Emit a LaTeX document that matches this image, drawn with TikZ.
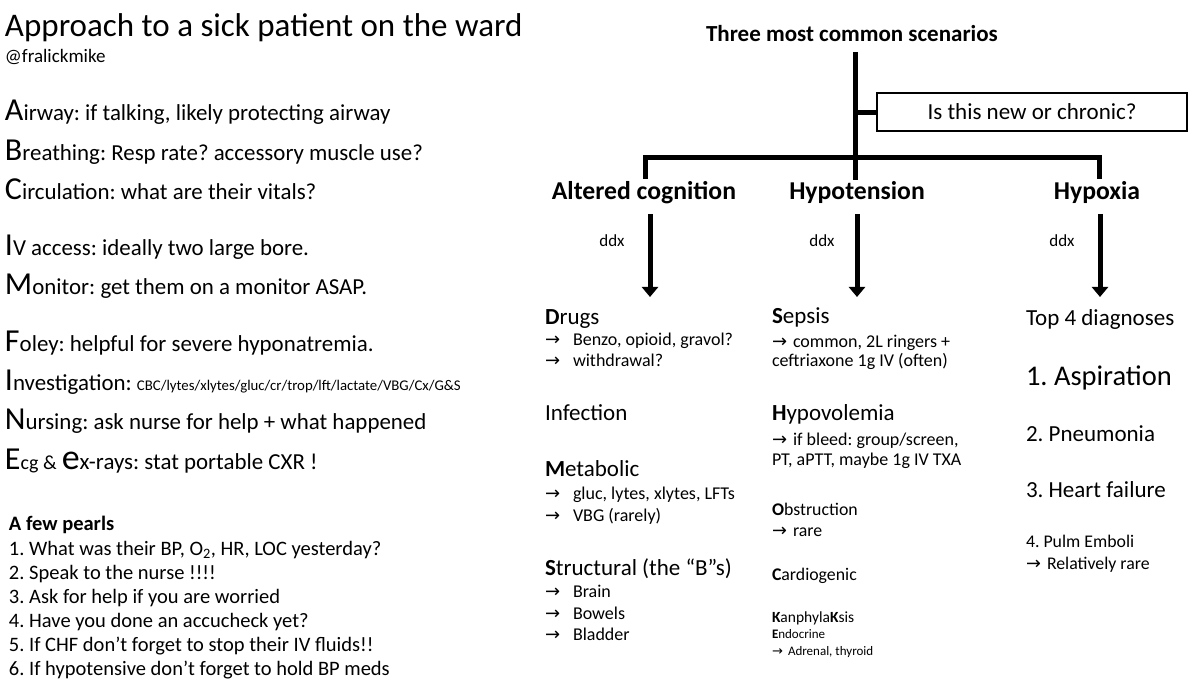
\documentclass[tikz,border=0pt]{standalone}
\usepackage{fontspec}
\setmainfont{Carlito}
\newfontfamily\dejavu{DejaVu Sans}
\usetikzlibrary{arrows.meta}
\frenchspacing
\newcommand\fsz[1]{\fontsize{#1}{#1}\selectfont}
\newcommand\rar{{\dejavu\char"2192}}
\newcommand\rarw[1]{\makebox[#1][l]{\rar}}
\newcommand\BL[1]{{\fontsize{32}{32}\selectfont #1}}
\begin{document}
\begin{tikzpicture}[x=1pt,y=-1pt,
  txt/.style={anchor=base west,inner sep=0pt,outer sep=0pt},
  ctxt/.style={anchor=base,inner sep=0pt,outer sep=0pt},
  tree/.style={line width=5pt},
  bigarrow/.style={line width=5pt,-{Triangle[width=16pt,length=10pt]}},
  qbox/.style={draw,line width=2.5pt,minimum width=310pt,minimum height=38pt,inner sep=0pt,font=\fsz{23}}
]
\useasboundingbox (0,0) rectangle (1200,684);
% ---------- left column ----------
\node[txt] (title) at (5,37) {\fsz{33}Approach to a sick patient on the ward};
\node[txt] (handle) at (5,63) {\fsz{19}@fralickmike};
\node[txt] (air) at (5,121) {\fsz{22.9}\BL{A}irway: if talking, likely protecting airway};
\node[txt] (bre) at (5,161) {\fsz{22.9}\BL{B}reathing: Resp rate? accessory muscle use?};
\node[txt] (cir) at (5,200) {\fsz{22.9}\BL{C}irculation: what are their vitals?};
\node[txt] (ivl) at (5,256) {\fsz{22.9}\BL{I}V access: ideally two large bore.};
\node[txt] (mon) at (5,295) {\fsz{22.9}\BL{M}onitor: get them on a monitor ASAP.};
\node[txt] (fol) at (5,352) {\fsz{22.9}\BL{F}oley: helpful for severe hyponatremia.};
\node[txt] (inv) at (5,391) {\fsz{22.9}\BL{I}nvestigation: {\fsz{14.8}CBC/lytes/xlytes/gluc/cr/trop/lft/lactate/VBG/Cx/G\&S}};
\node[txt] (nur) at (5,430) {\fsz{22.9}\BL{N}ursing: ask nurse for help + what happened};
\node[txt] (ecg) at (5,470) {\fsz{22.9}\BL{E}{\fsz{20}cg \&} {\fontsize{36}{36}\selectfont e}x-rays: stat portable CXR !};
\node[txt] (pearls) at (9,530) {\fsz{20.5}\bfseries A few pearls};
\node[txt] (p1) at (9,555) {\fsz{20.5}1. What was their BP, O\textsubscript{2}, HR, LOC yesterday?};
\node[txt] (p2) at (9,579) {\fsz{20.5}2. Speak to the nurse !!!!};
\node[txt] (p3) at (9,603) {\fsz{20.5}3. Ask for help if you are worried};
\node[txt] (p4) at (9,627) {\fsz{20.5}4. Have you done an accucheck yet?};
\node[txt] (p5) at (9,651) {\fsz{20.5}5. If CHF don’t forget to stop their IV fluids!!};
\node[txt] (p6) at (9,675) {\fsz{20.5}6. If hypotensive don’t forget to hold BP meds};
% ---------- tree ----------
\node[ctxt] (top) at (852,42) {\fsz{23}\bfseries Three most common scenarios};
\node[qbox] (q) at (1032,112) {Is this new or chronic?};
\node[ctxt] (alt) at (644,200) {\fsz{25.7}\bfseries Altered cognition};
\node[ctxt] (hyp) at (857,200) {\fsz{25.7}\bfseries Hypotension};
\node[ctxt] (hpx) at (1097,200) {\fsz{25.7}\bfseries Hypoxia};
\coordinate (j0) at (855,52);
\coordinate (jq) at (855,113);
\coordinate (jb) at (855,158);
\coordinate (jl) at (645,158);
\coordinate (jr) at (1099,158);
\draw[tree] (j0) -- (855,180);
\draw[tree] (jq) -- (q.west|-jq);
\draw[tree] (645,179) -- (jl) -- (jr) -- (1099,179);
% ddx arrows
\node[ctxt] (d1) at (612,247) {\fsz{17}ddx};
\node[ctxt] (d2) at (822,247) {\fsz{17}ddx};
\node[ctxt] (d3) at (1062,247) {\fsz{17}ddx};
\coordinate (a1s) at (650,214); \coordinate (a1e) at (650,297);
\coordinate (a2s) at (857,214); \coordinate (a2e) at (857,297);
\coordinate (a3s) at (1100,214); \coordinate (a3e) at (1100,297);
\draw[bigarrow] (a1s) -- (a1e);
\draw[bigarrow] (a2s) -- (a2e);
\draw[bigarrow] (a3s) -- (a3e);
% ---------- column 1 ----------
\node[txt] (drugs) at (545,325) {\fsz{23}\textbf{D}rugs};
\node[txt] (dr1) at (545,346) {\fsz{18}\rarw{28pt}Benzo, opioid, gravol?};
\node[txt] (dr2) at (545,367) {\fsz{18}\rarw{28pt}withdrawal?};
\node[txt] (inf) at (545,421) {\fsz{23}Infection};
\node[txt] (met) at (545,476) {\fsz{23}\textbf{M}etabolic};
\node[txt] (me1) at (545,500) {\fsz{18}\rarw{28pt}gluc, lytes, xlytes, LFTs};
\node[txt] (me2) at (545,521) {\fsz{18}\rarw{28pt}VBG (rarely)};
\node[txt] (str) at (545,575) {\fsz{23}\textbf{S}tructural (the “B”s)};
\node[txt] (st1) at (545,597) {\fsz{18}\rarw{28pt}Brain};
\node[txt] (st2) at (545,619) {\fsz{18}\rarw{28pt}Bowels};
\node[txt] (st3) at (545,640) {\fsz{18}\rarw{28pt}Bladder};
% ---------- column 2 ----------
\node[txt] (sep) at (772,324) {\fsz{23}\textbf{S}epsis};
\node[txt] (se1) at (772,348) {\fsz{18}\rarw{21pt}common, 2L ringers +};
\node[txt] (se2) at (772,367) {\fsz{18}ceftriaxone 1g IV (often)};
\node[txt] (hvl) at (772,421) {\fsz{23}\textbf{H}ypovolemia};
\node[txt] (hv1) at (772,446) {\fsz{18}\rarw{21pt}if bleed: group/screen,};
\node[txt] (hv2) at (772,466) {\fsz{18}PT, aPTT, maybe 1g IV TXA};
\node[txt] (obs) at (772,515) {\fsz{17.8}\textbf{O}bstruction};
\node[txt] (ob1) at (772,536) {\fsz{17.8}\rarw{21pt}rare};
\node[txt] (car) at (772,580) {\fsz{17.8}\textbf{C}ardiogenic};
\node[txt] (kan) at (772,622) {\fsz{15.5}\textbf{K}anphyla\textbf{K}sis};
\node[txt] (end) at (772,638) {\fsz{13}\textbf{E}ndocrine};
\node[txt] (adr) at (772,655) {\fsz{13}\rarw{16pt}Adrenal, thyroid};
% ---------- column 3 ----------
\node[txt] (top4) at (1026,326) {\fsz{23}Top 4 diagnoses};
\node[txt] (h1) at (1026,386) {\fsz{28.5}1. Aspiration};
\node[txt] (h2) at (1026,442) {\fsz{23}2. Pneumonia};
\node[txt] (h3) at (1026,497) {\fsz{23}3. Heart failure};
\node[txt] (h4) at (1026,547) {\fsz{17.8}4. Pulm Emboli};
\node[txt] (h5) at (1026,569) {\fsz{17.8}\rarw{21pt}Relatively rare};
\end{tikzpicture}
\end{document}
